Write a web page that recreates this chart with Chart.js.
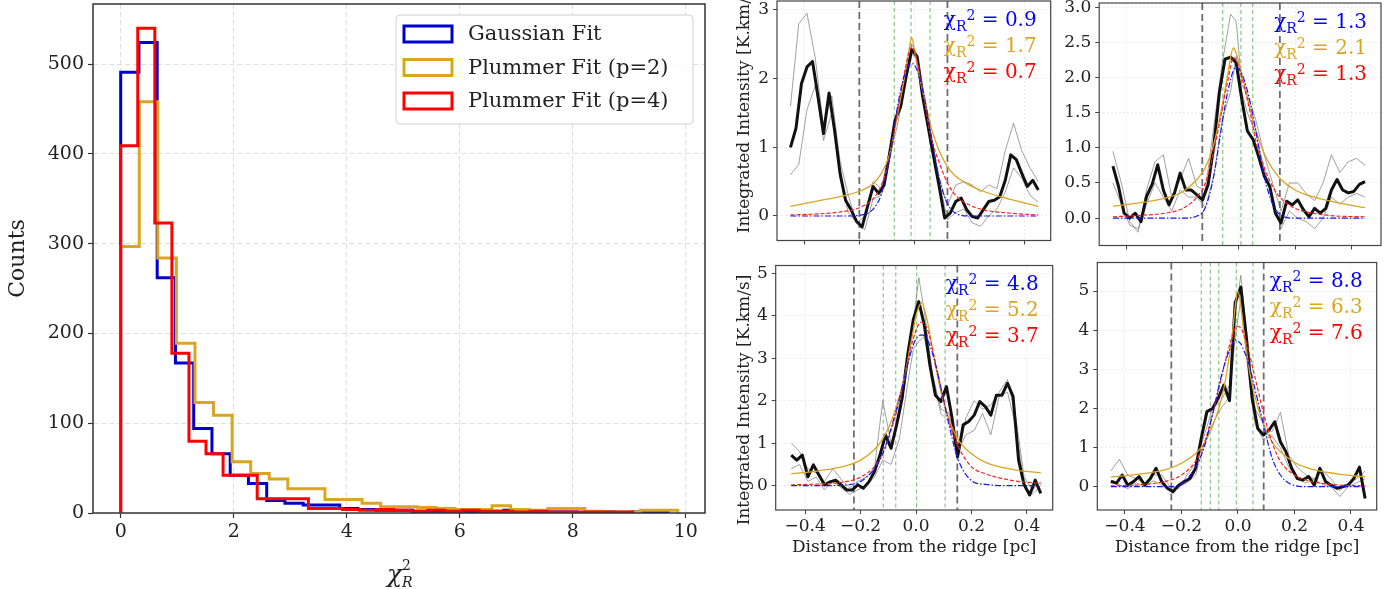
<!DOCTYPE html>
<html>
<head>
<meta charset="utf-8">
<script src="https://cdn.jsdelivr.net/npm/chart.js@4.4.0/dist/chart.umd.min.js"></script>
<style>
  body { margin: 0; background: #fff; width: 1395px; height: 589px; overflow: hidden; position: relative; }
  canvas { position: absolute; }
</style>
</head>
<body>
<canvas id="hist" width="720" height="589" style="left:0px;top:0px"></canvas>
<canvas id="p1" width="323" height="250" style="left:733px;top:0px"></canvas>
<canvas id="p2" width="339" height="256" style="left:1056px;top:0px"></canvas>
<canvas id="p3" width="323" height="333" style="left:733px;top:256px"></canvas>
<canvas id="p4" width="339" height="333" style="left:1056px;top:256px"></canvas>
<script>
// ---- histogram of reduced chi2 ----
const histTicksX = [0, 2, 4, 6, 8, 10];
const histTicksY = [0, 100, 200, 300, 400, 500];
const gaussBinWidth = 0.323;
const plummer2BinWidth = 0.3286;
const plummer4BinWidth = 0.302;
const gaussCounts = [491, 524, 262, 167, 94, 66, 42, 33, 14, 11, 9, 9, 5, 4, 3, 3, 2, 2, 2, 1, 2, 3, 1, 1, 1, 0, 1, 0, 1, 1];
const plummer2Counts = [297, 458, 284, 189, 123, 109, 57, 44, 38, 27, 27, 15, 15, 11, 7, 7, 6, 5, 4, 4, 8, 4, 3, 5, 5, 2, 1, 1, 3, 3];
const plummer4Counts = [409, 540, 323, 178, 80, 66, 42, 42, 16, 16, 16, 5, 5, 4, 3, 4, 3, 2, 3, 2, 3, 2, 2, 1, 2, 1, 1, 1, 1, 1];

// ---- radial profiles ----
const distTicks = [-0.4, -0.2, 0, 0.2, 0.4];
const profileX = [-0.45, -0.43, -0.41, -0.39, -0.37, -0.35, -0.33, -0.31, -0.29, -0.27,
  -0.25, -0.23, -0.21, -0.19, -0.17, -0.15, -0.13, -0.11, -0.09, -0.07,
  -0.05, -0.03, -0.01, 0.01, 0.03, 0.05, 0.07, 0.09, 0.11, 0.13,
  0.15, 0.17, 0.19, 0.21, 0.23, 0.25, 0.27, 0.29, 0.31, 0.33,
  0.35, 0.37, 0.39, 0.41, 0.43, 0.45];
const sideX = [-0.45, -0.42, -0.39, -0.36, -0.33, -0.30, -0.27, -0.24, -0.21, -0.18, -0.15, -0.12, -0.09, -0.06, -0.03, -0.01,
  0.01, 0.03, 0.06, 0.09, 0.12, 0.15, 0.18, 0.21, 0.24, 0.27, 0.30, 0.33, 0.36, 0.39, 0.42, 0.45];
const fitX = [-0.45, -0.35, -0.25, -0.2, -0.15, -0.12, -0.09, -0.06, -0.04, -0.02, -0.01, 0,
  0.01, 0.02, 0.04, 0.06, 0.09, 0.12, 0.15, 0.2, 0.25, 0.35, 0.45];

// panel 1
const p1Profile = [1.0, 1.28, 1.93, 2.17, 2.25, 1.74, 1.2, 1.79, 1.25, 0.62, 0.23, 0.09, -0.08, -0.16, 0.14, 0.43, 0.33, 0.45, 0.91, 1.4,
  1.59, 2.03, 2.42, 2.32, 1.74, 1.3, 0.86, 0.43, -0.03, 0.04, 0.21, 0.26, 0.09, -0.01, -0.03, 0.09, 0.21, 0.23, 0.28, 0.52,
  0.89, 0.82, 0.62, 0.43, 0.52, 0.38];
const p1SideA = [1.6, 2.8, 2.95, 2.3, 1.3, 1.75, 0.8, 0.3, -0.1, 0.0, 0.5, 0.4, 0.95, 1.6, 2.0, 2.5,
  2.35, 1.9, 1.2, 0.55, 0.15, 0.45, 0.5, 0.45, 0.35, 0.45, 0.4, 0.95, 1.35, 0.95, 0.7, 0.5];
const p1SideB = [0.6, 0.75, 1.55, 1.9, 1.1, 1.5, 0.55, 0.05, -0.1, -0.2, 0.25, 0.3, 0.85, 1.35, 2.0, 2.35,
  2.3, 1.7, 1.0, 0.5, -0.05, 0.05, 0.1, -0.1, -0.15, 0.0, 0.1, 0.35, 0.7, 0.55, 0.3, 0.2];
const p1Gauss = [0, 0, 0, 0.01, 0.10, 0.32, 0.85, 1.62, 2.00, 2.20, 2.22, 2.20, 2.12, 2.00, 1.65, 1.20, 0.55, 0.18, 0.04, 0, 0, 0, 0];
const p1Plum2 = [0.14, 0.22, 0.30, 0.36, 0.47, 0.62, 0.90, 1.50, 1.93, 2.40, 2.60, 2.42, 2.20, 2.00, 1.65, 1.30, 0.95, 0.72, 0.58, 0.45, 0.36, 0.24, 0.14];
const p1Plum4 = [0.015, 0.03, 0.07, 0.12, 0.25, 0.45, 0.85, 1.55, 2.00, 2.38, 2.46, 2.40, 2.25, 2.05, 1.60, 1.15, 0.78, 0.48, 0.30, 0.16, 0.09, 0.04, 0.015];
const p1Chi = [0.9, 1.7, 0.7];
const p1Bounds = [-0.20, 0.12];
const p1Peaks = [-0.073, -0.012, 0.057];
const p1XRange = [-0.499, 0.495];
const p1YRange = [-0.357, 3.13];
const p1YTicks = [0, 1, 2, 3];

// panel 2
const p2Profile = [0.74, 0.45, 0.07, 0.0, 0.07, -0.05, 0.31, 0.48, 0.76, 0.4, 0.19, 0.36, 0.64, 0.4, 0.4, 0.33, 0.26, 0.48, 1.02, 1.79,
  2.26, 2.29, 2.21, 1.69, 1.24, 1.12, 0.88, 0.6, 0.45, 0.07, -0.07, 0.24, 0.19, 0.26, 0.12, 0.02, 0.14, 0.07, 0.14, 0.4,
  0.55, 0.4, 0.36, 0.38, 0.48, 0.52];
const p2SideA = [0.95, 0.5, -0.05, -0.2, 0.4, 0.8, 0.9, 0.3, 0.55, 0.85, 0.45, 0.4, 1.3, 2.2, 2.9, 2.8,
  1.9, 1.75, 1.4, 0.9, 0.5, 0.1, 0.5, 0.5, 0.35, 0.25, 0.5, 0.9, 0.65, 0.8, 0.85, 0.75];
const p2SideB = [0.5, 0.2, -0.1, -0.15, 0.2, 0.5, 0.3, 0.1, 0.4, 0.3, 0.3, 0.15, 0.6, 1.4, 1.8, 2.3,
  1.8, 1.5, 1.2, 0.7, 0.3, -0.15, 0.1, 0.0, -0.05, -0.15, 0.0, 0.3, 0.2, 0.3, 0.35, 0.3];
const p2Gauss = [0, 0, 0, 0, 0.03, 0.15, 0.60, 1.35, 1.80, 2.10, 2.15, 2.12, 2.05, 1.95, 1.65, 1.25, 0.60, 0.20, 0.04, 0, 0, 0, 0];
const p2Plum2 = [0.17, 0.22, 0.30, 0.38, 0.55, 0.72, 1.05, 1.60, 2.05, 2.42, 2.35, 2.20, 2.05, 1.90, 1.55, 1.25, 0.92, 0.70, 0.55, 0.40, 0.32, 0.22, 0.15];
const p2Plum4 = [0.02, 0.04, 0.08, 0.14, 0.30, 0.50, 0.95, 1.55, 1.95, 2.28, 2.25, 2.15, 2.00, 1.85, 1.50, 1.10, 0.72, 0.45, 0.28, 0.14, 0.08, 0.03, 0.02];
const p2Chi = [1.3, 2.1, 1.3];
const p2Bounds = [-0.131, 0.146];
const p2Peaks = [-0.058, 0.007, 0.049];
const p2XRange = [-0.499, 0.507];
const p2YRange = [-0.389, 3.06];
const p2YTicks = [0, 0.5, 1, 1.5, 2, 2.5, 3];

// panel 3
const p3Profile = [0.72, 0.6, 0.72, 0.21, 0.49, 0.25, 0.02, 0.09, 0.13, 0.02, -0.1, -0.1, 0.02, -0.06, 0.09, 0.33, 0.72, 1.19, 0.88, 1.43,
  2.06, 3.08, 3.9, 4.33, 3.78, 2.84, 2.13, 1.98, 2.33, 1.59, 0.68, 1.43, 1.51, 1.66, 1.98, 1.86, 1.66, 2.13, 2.13, 2.41,
  2.1, 0.6, 0.02, -0.22, 0.13, -0.18];
const p3SideA = [1.0, 0.8, 0.4, 0.3, 0.1, 0.4, 0.15, -0.05, 0.1, 0.2, 0.4, 2.0, 1.0, 1.6, 2.8, 3.8,
  4.9, 4.1, 2.6, 1.8, 1.7, 0.6, 1.6, 2.0, 1.8, 1.9, 2.2, 2.5, 1.6, 0.2, -0.1, 0.1];
const p3SideB = [0.4, 0.5, 0.1, 0.2, -0.1, 0.1, -0.05, -0.2, -0.1, 0.0, 0.2, 0.6, 0.5, 1.1, 2.4, 3.2,
  3.4, 3.5, 2.5, 1.7, 1.5, 0.8, 1.2, 1.3, 1.7, 1.2, 2.1, 2.2, 1.4, 0.0, -0.2, 0.0];
const p3Gauss = [0, 0, 0.02, 0.10, 0.40, 0.75, 1.35, 2.05, 2.60, 3.10, 3.30, 3.45, 3.52, 3.55, 3.45, 3.10, 2.30, 1.40, 0.65, 0.12, 0.03, 0, 0];
const p3Plum2 = [0.28, 0.35, 0.47, 0.60, 0.85, 1.10, 1.50, 2.10, 2.60, 3.30, 3.65, 4.00, 4.20, 4.30, 3.90, 3.20, 2.20, 1.55, 1.10, 0.75, 0.55, 0.38, 0.30];
const p3Plum4 = [0.02, 0.04, 0.10, 0.20, 0.45, 0.75, 1.30, 2.00, 2.60, 3.20, 3.45, 3.65, 3.80, 3.85, 3.70, 3.20, 2.30, 1.50, 0.95, 0.45, 0.28, 0.12, 0.05];
const p3Chi = [4.8, 5.2, 3.7];
const p3Bounds = [-0.224, 0.149];
const p3Peaks = [-0.118, -0.073, 0.002, 0.105];
const p3XRange = [-0.506, 0.493];
const p3YRange = [-0.572, 5.18];
const p3YTicks = [0, 1, 2, 3, 4, 5];

// panel 4
const p4Profile = [0.14, 0.09, 0.3, 0.04, 0.13, 0.26, 0.04, 0.21, 0.47, 0.13, -0.04, -0.13, 0.04, 0.13, 0.21, 0.47, 1.24, 1.92, 2.0, 2.26,
  2.6, 2.2, 4.7, 5.1, 3.79, 2.26, 1.49, 1.32, 1.45, 1.66, 1.15, 0.89, 0.47, 0.21, 0.17, 0.26, 0.04, 0.47, 0.13, 0.04,
  -0.04, 0.0, 0.04, 0.21, 0.5, -0.3];
const p4SideA = [0.4, 0.7, 0.3, 0.2, 0.1, 0.3, 0.3, 0.0, -0.05, 0.3, 0.6, 1.3, 2.0, 2.2, 2.6, 4.4,
  5.4, 4.0, 2.0, 1.6, 1.4, 1.9, 0.8, 0.5, 0.3, 0.2, 0.4, 0.2, -0.1, 0.1, 0.2, 0.4];
const p4SideB = [0.1, 0.05, -0.05, 0.1, 0.0, 0.15, 0.05, -0.1, 0.0, 0.1, 0.3, 1.1, 1.6, 2.0, 2.3, 3.8,
  4.8, 3.3, 1.6, 1.2, 1.3, 1.0, 0.5, 0.2, 0.1, 0.2, 0.05, 0.0, -0.25, 0.0, 0.1, 0.2];
const p4Gauss = [0, 0, 0, 0.08, 0.50, 1.00, 1.85, 2.80, 3.30, 3.65, 3.75, 3.72, 3.65, 3.50, 3.10, 2.50, 1.60, 0.75, 0.30, 0.03, 0, 0, 0];
const p4Plum2 = [0.25, 0.32, 0.45, 0.60, 0.85, 1.10, 1.55, 2.20, 2.90, 3.90, 4.60, 5.00, 4.60, 4.00, 3.00, 2.30, 1.60, 1.15, 0.90, 0.62, 0.47, 0.33, 0.25];
const p4Plum4 = [0.02, 0.05, 0.15, 0.30, 0.65, 1.10, 1.85, 2.75, 3.35, 3.85, 4.05, 4.10, 4.05, 3.90, 3.40, 2.80, 1.90, 1.15, 0.65, 0.30, 0.15, 0.05, 0.02];
const p4Chi = [8.8, 6.3, 7.6];
const p4Bounds = [-0.236, 0.091];
const p4Peaks = [-0.13, -0.098, -0.068, -0.006, 0.053];
const p4XRange = [-0.498, 0.491];
const p4YRange = [-0.595, 5.73];
const p4YTicks = [0, 1, 2, 3, 4, 5];

const SERIF = '"DejaVu Serif", "Liberation Serif", serif';
Chart.defaults.font.family = SERIF;
Chart.defaults.color = '#222';

const BLUE = '#0000cd', GOLD = '#daa520', RED = '#ff0000';

function pts(xs, ys) {
  return xs.map((x, i) => ({ x: x, y: ys[i] }));
}

// outline of a step histogram, starting and ending on the zero line
function stepPoints(counts, w) {
  const out = [{ x: 0, y: 0 }];
  counts.forEach((c, i) => out.push({ x: i * w, y: c }));
  out.push({ x: counts.length * w, y: counts[counts.length - 1] });
  out.push({ x: counts.length * w, y: 0 });
  return out;
}

function fixedTicks(list) {
  return s => { s.ticks = list.map(v => ({ value: v })); };
}

function fmtSigned(v) {
  const s = Math.abs(v).toFixed(1);
  return v < 0 ? '\u2212' + s : s;
}

// ---------- left: histogram ----------
const histDeco = {
  id: 'histDeco',
  afterDatasetsDraw(chart) {
    const { ctx, chartArea: a } = chart;
    ctx.save();
    ctx.strokeStyle = '#333';
    ctx.lineWidth = 1.5;
    ctx.strokeRect(a.left, a.top, a.right - a.left, a.bottom - a.top);
    ctx.restore();
  },
  afterDraw(chart) {
    const { ctx, chartArea: a } = chart;
    ctx.save();
    // legend
    const bx = a.right - 309, by = a.top + 11, bw = 297, bh = 109;
    ctx.fillStyle = 'rgba(255,255,255,0.85)';
    ctx.strokeStyle = '#d0d0d0';
    ctx.lineWidth = 1;
    ctx.beginPath();
    ctx.roundRect(bx, by, bw, bh, 4);
    ctx.fill();
    ctx.stroke();
    chart.data.datasets.forEach((ds, i) => {
      const cy = by + 19 + i * 33.5;
      ctx.strokeStyle = ds.borderColor;
      ctx.lineWidth = 3;
      ctx.strokeRect(bx + 8, cy - 8, 48, 16);
      ctx.fillStyle = '#222';
      ctx.font = '21px ' + SERIF;
      ctx.textAlign = 'left';
      ctx.textBaseline = 'middle';
      ctx.fillText(ds.label, bx + 72, cy + 1);
    });
    // axis titles
    ctx.fillStyle = '#222';
    ctx.font = '22px ' + SERIF;
    ctx.textAlign = 'center';
    ctx.textBaseline = 'middle';
    ctx.save();
    ctx.translate(18, (a.top + a.bottom) / 2);
    ctx.rotate(-Math.PI / 2);
    ctx.fillText('Counts', 0, 0);
    ctx.restore();
    const cx = (a.left + a.right) / 2;
    ctx.textBaseline = 'alphabetic';
    ctx.textAlign = 'left';
    ctx.font = 'italic 25px ' + SERIF;
    ctx.fillText('\u03c7', cx - 12, a.bottom + 69);
    ctx.font = '14px ' + SERIF;
    ctx.fillText('2', cx + 3, a.bottom + 57);
    ctx.font = 'italic 14px ' + SERIF;
    ctx.fillText('R', cx + 3, a.bottom + 74);
    ctx.restore();
  }
};

const histGrid = { color: '#dedede', lineWidth: 1, tickColor: '#333', tickLength: 5, tickWidth: 1.2 };

new Chart(document.getElementById('hist'), {
  type: 'line',
  data: {
    datasets: [
      { label: 'Gaussian Fit', data: stepPoints(gaussCounts, gaussBinWidth), borderColor: BLUE, order: 2 },
      { label: 'Plummer Fit (p=2)', data: stepPoints(plummer2Counts, plummer2BinWidth), borderColor: GOLD, order: 1 },
      { label: 'Plummer Fit (p=4)', data: stepPoints(plummer4Counts, plummer4BinWidth), borderColor: RED, order: 0 }
    ]
  },
  options: {
    responsive: false,
    animation: false,
    devicePixelRatio: 1,
    layout: { padding: { top: 4, right: 15, left: 0, bottom: 0 } },
    elements: {
      point: { radius: 0 },
      line: { borderWidth: 3, stepped: true, fill: false, borderJoinStyle: 'miter', borderCapStyle: 'butt' }
    },
    plugins: { legend: { display: false }, tooltip: { enabled: false } },
    scales: {
      x: {
        type: 'linear', min: -0.49, max: 10.34,
        afterBuildTicks: fixedTicks(histTicksX),
        afterFit: s => { s.height = 76; s.paddingLeft = 0; s.paddingRight = 0; },
        grid: histGrid,
        border: { display: false, dash: [5, 3] },
        ticks: { font: { size: 19 }, padding: 3, maxRotation: 0, callback: v => String(v) }
      },
      y: {
        type: 'linear', min: 0, max: 567,
        afterBuildTicks: fixedTicks(histTicksY),
        afterFit: s => { s.width = 93; s.paddingTop = 0; s.paddingBottom = 0; },
        grid: histGrid,
        border: { display: false, dash: [5, 3] },
        ticks: { font: { size: 19 }, padding: 4, callback: v => String(v) }
      }
    }
  },
  plugins: [histDeco]
});

// ---------- right: four profile panels ----------
function drawChi(ctx, right, baseline, value, color) {
  const big = '20px ' + SERIF, small = '14px ' + SERIF;
  const rest = ' = ' + value.toFixed(1);
  ctx.font = big;
  const wChi = ctx.measureText('\u03c7').width;
  const wRest = ctx.measureText(rest).width;
  ctx.font = small;
  const wR = ctx.measureText('R').width;
  const w2 = ctx.measureText('2').width;
  let x = right - (wChi + wR + w2 + wRest);
  ctx.fillStyle = color;
  ctx.textAlign = 'left';
  ctx.textBaseline = 'alphabetic';
  ctx.font = big;
  ctx.fillText('\u03c7', x, baseline);
  x += wChi;
  ctx.font = small;
  ctx.fillText('R', x, baseline + 5);
  x += wR;
  ctx.fillText('2', x, baseline - 6);
  x += w2;
  ctx.font = big;
  ctx.fillText(rest, x, baseline);
}

const panelDeco = {
  id: 'panelDeco',
  beforeDatasetsDraw(chart) {
    const p = chart.options.plugins.panelDeco;
    const { ctx, chartArea: a, scales } = chart;
    ctx.save();
    ctx.beginPath();
    ctx.rect(a.left, a.top, a.right - a.left, a.bottom - a.top);
    ctx.clip();
    p.peaks.forEach(v => {
      const x = scales.x.getPixelForValue(v);
      ctx.strokeStyle = '#86c886';
      ctx.lineWidth = 1.2;
      ctx.setLineDash([4, 3]);
      ctx.beginPath(); ctx.moveTo(x, a.top); ctx.lineTo(x, a.bottom); ctx.stroke();
    });
    p.bounds.forEach(v => {
      const x = scales.x.getPixelForValue(v);
      ctx.strokeStyle = '#6e6e6e';
      ctx.lineWidth = 1.8;
      ctx.setLineDash([7, 4]);
      ctx.beginPath(); ctx.moveTo(x, a.top); ctx.lineTo(x, a.bottom); ctx.stroke();
    });
    ctx.restore();
  },
  afterDatasetsDraw(chart) {
    const p = chart.options.plugins.panelDeco;
    const { ctx, chartArea: a } = chart;
    ctx.save();
    ctx.strokeStyle = '#444';
    ctx.lineWidth = 1.2;
    ctx.strokeRect(a.left, a.top, a.right - a.left, a.bottom - a.top);
    const cols = [BLUE, GOLD, RED];
    p.chi.forEach((v, i) => drawChi(ctx, a.right - 14, a.top + 24.5 + i * 26, v, i === 0 ? '#0000ff' : cols[i]));
    ctx.fillStyle = '#222';
    ctx.font = '17px ' + SERIF;
    ctx.textAlign = 'center';
    ctx.textBaseline = 'middle';
    if (p.yTitleY !== null) {
      ctx.save();
      ctx.translate(12, p.yTitleY);
      ctx.rotate(-Math.PI / 2);
      ctx.fillText('Integrated Intensity [K.km/s]', 0, 0);
      ctx.restore();
    }
    if (p.xTitle) {
      ctx.fillText('Distance from the ridge [pc]', (a.left + a.right) / 2, a.bottom + 38);
    }
    ctx.restore();
  }
};

function panelChart(cfg) {
  const panelGrid = { color: '#e6e6e6', lineWidth: 0.8, tickColor: '#444', tickLength: 4, tickWidth: 1 };
  return new Chart(document.getElementById(cfg.id), {
    type: 'line',
    data: {
      datasets: [
        { data: pts(sideX, cfg.sideA), borderColor: 'rgba(105,105,105,0.7)', borderWidth: 0.9, order: 6 },
        { data: pts(sideX, cfg.sideB), borderColor: 'rgba(105,105,105,0.7)', borderWidth: 0.9, order: 5 },
        { data: pts(profileX, cfg.profile), borderColor: '#111', borderWidth: 3, order: 4 },
        { data: pts(fitX, cfg.plum2), borderColor: GOLD, borderWidth: 1.3, cubicInterpolationMode: 'monotone', order: 3 },
        { data: pts(fitX, cfg.plum4), borderColor: '#ff2020', borderWidth: 1.2, borderDash: [4, 2], cubicInterpolationMode: 'monotone', order: 2 },
        { data: pts(fitX, cfg.gauss), borderColor: '#1515ff', borderWidth: 1.2, borderDash: [6, 2, 1.5, 2], cubicInterpolationMode: 'monotone', order: 1 }
      ]
    },
    options: {
      responsive: false,
      animation: false,
      devicePixelRatio: 1,
      layout: { padding: { top: cfg.padTop, right: cfg.padRight, left: 0, bottom: 0 } },
      elements: { point: { radius: 0 }, line: { tension: 0, fill: false, borderJoinStyle: 'round' } },
      plugins: {
        legend: { display: false },
        tooltip: { enabled: false },
        panelDeco: { chi: cfg.chi, bounds: cfg.bounds, peaks: cfg.peaks, yTitleY: cfg.yTitleY, xTitle: cfg.xTitle }
      },
      scales: {
        x: {
          type: 'linear', min: cfg.xRange[0], max: cfg.xRange[1],
          afterBuildTicks: fixedTicks(distTicks),
          afterFit: s => { s.height = cfg.xH; s.paddingLeft = 0; s.paddingRight = 0; },
          grid: panelGrid,
          border: { display: false, dash: [2, 2] },
          ticks: { display: cfg.xTitle, font: { size: 17 }, padding: 2, maxRotation: 0, callback: v => fmtSigned(v) }
        },
        y: {
          type: 'linear', min: cfg.yRange[0], max: cfg.yRange[1],
          afterBuildTicks: fixedTicks(cfg.yTicks),
          afterFit: s => { s.width = cfg.yW; s.paddingTop = 0; s.paddingBottom = 0; },
          grid: panelGrid,
          border: { display: false, dash: [2, 2] },
          ticks: { font: { size: 17 }, padding: 4, callback: v => cfg.yDec ? v.toFixed(cfg.yDec) : String(v) }
        }
      }
    },
    plugins: [panelDeco]
  });
}

panelChart({ id: 'p1', profile: p1Profile, sideA: p1SideA, sideB: p1SideB, gauss: p1Gauss, plum2: p1Plum2, plum4: p1Plum4,
  chi: p1Chi, bounds: p1Bounds, peaks: p1Peaks, xRange: p1XRange, yRange: p1YRange, yTicks: p1YTicks, yDec: 0,
  yW: 44, xH: 9.5, padTop: 1, padRight: 5.3, yTitleY: 108, xTitle: false });
panelChart({ id: 'p2', profile: p2Profile, sideA: p2SideA, sideB: p2SideB, gauss: p2Gauss, plum2: p2Plum2, plum4: p2Plum4,
  chi: p2Chi, bounds: p2Bounds, peaks: p2Peaks, xRange: p2XRange, yRange: p2YRange, yTicks: p2YTicks, yDec: 1,
  yW: 43.2, xH: 10.5, padTop: 3, padRight: 14, yTitleY: null, xTitle: false });
panelChart({ id: 'p3', profile: p3Profile, sideA: p3SideA, sideB: p3SideB, gauss: p3Gauss, plum2: p3Plum2, plum4: p3Plum4,
  chi: p3Chi, bounds: p3Bounds, peaks: p3Peaks, xRange: p3XRange, yRange: p3YRange, yTicks: p3YTicks, yDec: 0,
  yW: 42.7, xH: 79, padTop: 9.5, padRight: 3.3, yTitleY: 144, xTitle: true });
panelChart({ id: 'p4', profile: p4Profile, sideA: p4SideA, sideB: p4SideB, gauss: p4Gauss, plum2: p4Plum2, plum4: p4Plum4,
  chi: p4Chi, bounds: p4Bounds, peaks: p4Peaks, xRange: p4XRange, yRange: p4YRange, yTicks: p4YTicks, yDec: 0,
  yW: 41.3, xH: 79, padTop: 6.5, padRight: 18.3, yTitleY: null, xTitle: true });
</script>
</body>
</html>
